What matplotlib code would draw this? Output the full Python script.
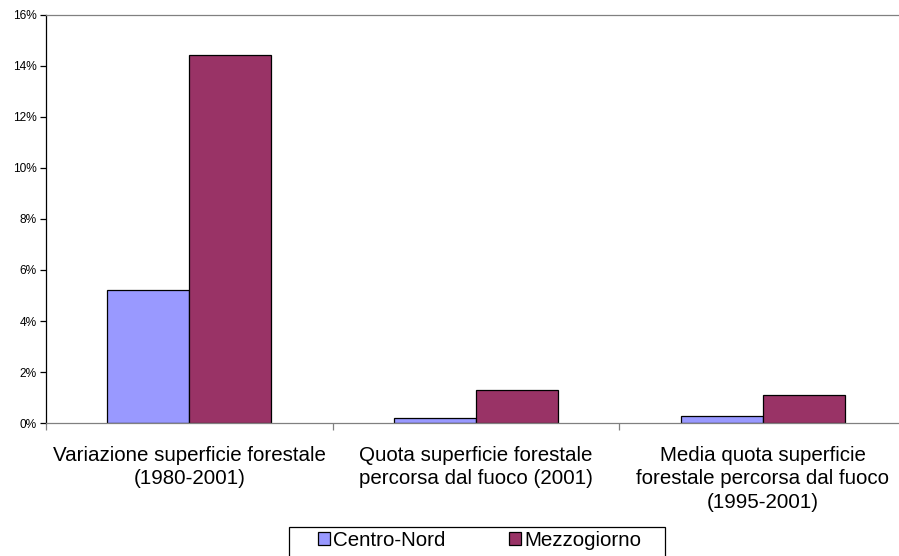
import matplotlib.pyplot as plt
import numpy as np
from matplotlib.patches import Rectangle
from matplotlib.ticker import FuncFormatter

plt.rcParams['font.family'] = ['Liberation Sans', 'DejaVu Sans']

# dati (%)
categorie = ['Variazione superficie forestale\n(1980-2001)',
             'Quota superficie forestale\npercorsa dal fuoco (2001)',
             'Media quota superficie\nforestale percorsa dal fuoco\n(1995-2001)']
centro_nord = [5.2, 0.2, 0.3]
mezzogiorno = [14.4, 1.3, 1.1]

fig = plt.figure(figsize=(8.99, 5.56), dpi=100)
W, H = 899, 556
ax = fig.add_axes([46 / W, (H - 423.3) / H, (906 - 46) / W, (423.3 - 14.5) / H])

x = np.arange(len(categorie)) + 0.5
w = 0.286
ax.bar(x - w / 2, centro_nord, w, color='#9999FF', edgecolor='black', linewidth=0.9,
       label='Centro-Nord')
ax.bar(x + w / 2, mezzogiorno, w, color='#993366', edgecolor='black', linewidth=0.9,
       label='Mezzogiorno')

ax.set_xlim(0, 3)
ax.set_ylim(0, 16)
ax.set_yticks(np.arange(0, 17, 2))
ax.yaxis.set_major_formatter(FuncFormatter(lambda v, p: f'{v:.0f}%'))
ax.tick_params(axis='y', labelsize=8.6, length=4.3, width=0.9, direction='out', pad=2.5)

ax.set_xticks(x)
ax.set_xticklabels(categorie, fontsize=14.8, linespacing=1.3)
ax.set_xticks([0, 1, 2, 3], minor=True)
ax.tick_params(axis='x', which='major', length=0, pad=16)
ax.tick_params(axis='x', which='minor', length=5, width=0.9, color='#808080')

ax.spines['left'].set_color('black')
ax.spines['bottom'].set_color('#808080')
ax.spines['top'].set_color('#808080')
ax.spines['right'].set_visible(False)
for s in ax.spines.values():
    s.set_linewidth(0.9)

# legenda: riquadro disegnato a parte (il bordo inferiore esce dall'immagine)
fig.patches.append(Rectangle((289 / W, -0.05), (665 - 289) / W, 0.05 + 1 - 527 / H,
                             transform=fig.transFigure, facecolor='white',
                             edgecolor='black', linewidth=0.9, zorder=0))
leg_top = 1 - 531 / H
leg = fig.legend(loc='upper left', bbox_to_anchor=(318 / W, leg_top - 0.1, (641 - 318) / W, 0.1),
                 ncol=2, mode='expand', fontsize=14.8, frameon=False,
                 handlelength=0.6, handleheight=0.6, handletextpad=0.15,
                 borderpad=0, borderaxespad=0)

fig.savefig('out.png', dpi=100)
